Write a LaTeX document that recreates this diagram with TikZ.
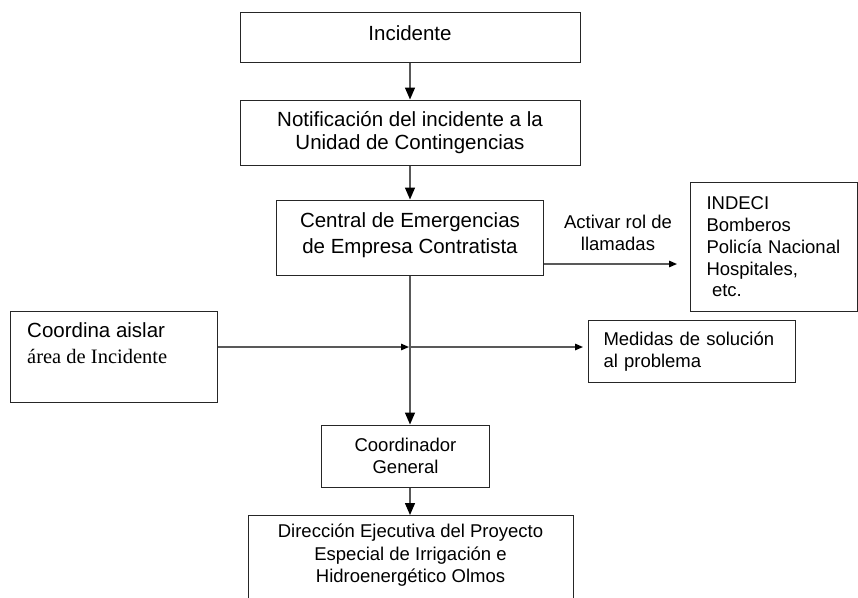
\documentclass[tikz,border=0pt]{standalone}
\usepackage{fontspec}
\setmainfont{Liberation Sans}
\newfontfamily\timesfont{Liberation Serif}
\usetikzlibrary{arrows.meta}

\begin{document}
\begin{tikzpicture}[x=1pt,y=-1pt,
  box/.style={draw=black!85,line width=1pt,inner sep=0pt,align=center,
    font=\fontsize{18.5}{22.5}\selectfont},
  bigbox/.style={box,font=\fontsize{20.5}{23.5}\selectfont},
  txt/.style={inner sep=0pt,font=\fontsize{18.5}{22.5}\selectfont},
  link/.style={draw=black!65,line width=1.4pt,-{Triangle[length=12pt,width=10pt,color=black]}},
  smalllink/.style={link,-{Triangle[length=8pt,width=6.5pt,color=black]}}]
\useasboundingbox (0,0) rectangle (858,597);
\clip (0,0) rectangle (858,597);
\node[bigbox,minimum width=340,minimum height=50,text depth=7pt] (inc) at (410,37) {Incidente};
\node[bigbox,minimum width=340,minimum height=65] (notif) at (410,132.5)
    {Notificación del incidente a la\\Unidad de Contingencias};
\node[bigbox,minimum width=267,minimum height=75,font=\fontsize{20.5}{26}\selectfont,
    text depth=9pt] (central) at (410,237.5)
    {Central de Emergencias\\de Empresa Contratista};
\node[box,anchor=north west,minimum width=167,minimum height=129,text width=135,
    align=left,font=\fontsize{18.5}{21.7}\selectfont] (indeci) at (690,182)
    {INDECI\\Bomberos\\Policía Nacional\\Hospitales,\\\hspace*{0.3em}etc.};
\node[txt,align=center] (activar) at (618,233) {Activar rol de\\llamadas};
\node[box,anchor=north west,minimum width=207,minimum height=91] (aislar) at (10,311) {};
\node[txt,anchor=north west,align=left,font=\fontsize{20.5}{26}\selectfont] (aislartxt)
    at ([shift={(17,11)}]aislar.north west) {Coordina aislar\\{\timesfont área de Incidente}};
\node[box,anchor=north west,minimum width=207,minimum height=62,text width=177,
    align=left] (medidas) at (588,320) {Medidas de solución\\al problema};
\node[box,minimum width=168,minimum height=62] (coord) at (405.5,456) {Coordinador\\General};
\node[box,anchor=north,minimum width=325,minimum height=110] (dir) at (410.5,515) {};
\node[txt,anchor=north,align=center] (dirtxt) at ([shift={(0,9)}]dir.north)
    {Dirección Ejecutiva del Proyecto\\Especial de Irrigación e\\Hidroenergético Olmos};
\coordinate (callend) at (677,264);
\coordinate (jn) at (410,347);
\draw[link] (inc.south) -- (notif.north);
\draw[link] (notif.south) -- (central.north);
\draw[smalllink] (central.east |- callend) -- (callend);
\draw[link] (central.south) -- (central.south |- coord.north);
\draw[smalllink] (aislar.east |- jn) -- ([xshift=-1]jn);
\draw[smalllink] (jn) -- ([xshift=-5]medidas.west |- jn);
\draw[link] (central.south |- coord.south) -- (central.south |- dir.north);
\end{tikzpicture}
\end{document}
